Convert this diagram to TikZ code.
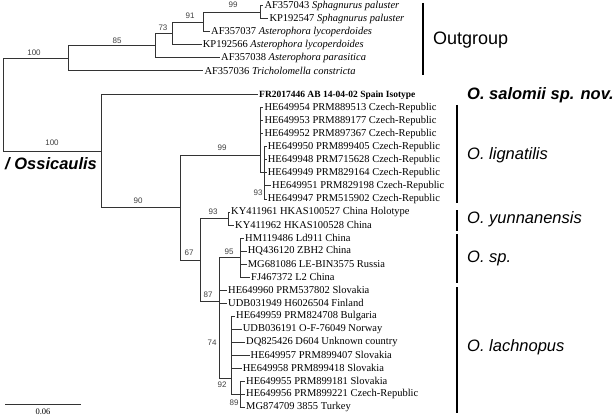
\documentclass[tikz,border=0pt]{standalone}
\usepackage{fontspec}
\setmainfont{Liberation Serif}
\newfontfamily\arialfont{Liberation Sans}
\usetikzlibrary{positioning}

\begin{document}
\begin{tikzpicture}[
  x=1pt, y=-1pt,
  br/.style={draw=black!80, line width=1pt},
  tip/.style={anchor=west, inner xsep=1pt, inner ysep=0pt,
              font=\fontsize{10.5}{12}\selectfont},
  boot/.style={inner sep=0pt, text=black!75,
               font=\arialfont\fontsize{8}{9}\selectfont},
  clade/.style={line width=2.6pt},
  grp/.style={anchor=west, inner sep=0pt,
              font=\arialfont\itshape\fontsize{16.5}{18}\selectfont}
]
\useasboundingbox (0,0) rectangle (616,417);

% inner nodes of the tree
\coordinate (root)  at (3,104.9);
\coordinate (og)    at (68.3,58.4);
\coordinate (ast)   at (155.7,45.8);
\coordinate (ast2)  at (172.3,33.6);
\coordinate (sphA)  at (203.3,22.25);
\coordinate (sph)   at (260,12.5);
\coordinate (oss)   at (101.7,151.4);
\coordinate (core)  at (180.7,207.85);
\coordinate (lig)   at (260.7,155.7);
\coordinate (lig2)  at (264.3,173);
\coordinate (rest)  at (200,260);
\coordinate (yun)   at (228,218.5);
\coordinate (lachW) at (219,301.5);
\coordinate (osp)   at (240,257.5);
\coordinate (lach)  at (231.7,378);
\coordinate (lach2) at (240.7,394);

\foreach \p/\c in {root/og, og/ast, ast/ast2, ast2/sphA, sphA/sph,
                   root/oss, oss/core, core/lig, lig/lig2, core/rest,
                   rest/yun, rest/lachW, lachW/osp, lachW/lach, lach/lach2}{
  \draw[br] (\p) |- (\c);
}

% leaves
\foreach \n/\p/\x/\y/\t in {
  t1/sph/263.3/6/{AF357043 \textit{Sphagnurus paluster}},
  t2/sph/268.3/19/{KP192547 \textit{Sphagnurus paluster}},
  t3/sphA/210/32/{AF357037 \textit{Asterophora lycoperdoides}},
  t4/ast2/201.7/45/{KP192566 \textit{Asterophora lycoperdoides}},
  t5/ast/220/58/{AF357038 \textit{Asterophora parasitica}},
  t6/og/203.3/71/{AF357036 \textit{Tricholomella constricta}},
  i0/lig/263.3/108/{HE649954 PRM889513 Czech-Republic},
  i1/lig/263.3/121/{HE649953 PRM889177 Czech-Republic},
  i2/lig/263.3/134/{HE649952 PRM897367 Czech-Republic},
  i3/lig2/266.7/147/{HE649950 PRM899405 Czech-Republic},
  i4/lig2/266.7/160/{HE649948 PRM715628 Czech-Republic},
  i5/lig2/266.7/173/{HE649949 PRM829164 Czech-Republic},
  i6/lig2/271/186/{HE649951 PRM829198 Czech-Republic},
  i7/lig2/266.7/199/{HE649947 PRM515902 Czech-Republic},
  i8/yun/230/212/{KY411961 HKAS100527 China Holotype},
  i9/yun/234/225/{KY411962 HKAS100528 China},
  i10/osp/244/238/{HM119486 Ld911 China},
  i11/osp/246.7/251/{HQ436120 ZBH2 China},
  i12/osp/246.7/264/{MG681086 LE-BIN3575 Russia},
  i13/osp/250/277/{FJ467372 L2 China},
  i14/lachW/227/290/{HE649960 PRM537802 Slovakia},
  i15/lachW/227/303/{UDB031949 H6026504 Finland},
  i16/lach/235/316/{HE649959 PRM824708 Bulgaria},
  i17/lach/241.7/329/{UDB036191 O-F-76049 Norway},
  i18/lach/245/342/{DQ825426 D604 Unknown country},
  i19/lach/249.5/355/{HE649957 PRM899407 Slovakia},
  i20/lach/241.7/368/{HE649958 PRM899418 Slovakia},
  i21/lach2/245/381/{HE649955 PRM899181 Slovakia},
  i22/lach2/245/394/{HE649956 PRM899221 Czech-Republic},
  i23/lach2/245/407/{MG874709 3855 Turkey}}{
  \node[tip] (\n) at (\x,\y) {\t};
  \draw[br] (\p) |- (\n.west);
}
\node[tip, font=\bfseries\fontsize{9.5}{11}\selectfont] (fr) at (258,95)
  {FR2017446 AB 14-04-02 Spain Isotype};
\draw[br] (oss) |- (fr.west);

% bootstrap values
\foreach \x/\y/\v in {34/53/100, 117/41/85, 163/28/73, 190/16/91, 233/5/99,
                      52/143/100, 138/201/90, 222/148/99, 258/193/93,
                      213/212/93, 189/253/67, 229/252/95, 208/295/87,
                      212/343/74, 222/385/92, 234/403/89}{
  \node[boot] at (\x,\y) {\v};
}

% clade bars
\foreach \x/\a/\b in {423/3/75, 457/105/203, 457/210/231, 457/234/283, 457/287/413}{
  \draw[clade] (\x,\a) -- (\x,\b);
}
\node[grp, font=\arialfont\fontsize{18}{20}\selectfont] (outg) at (433,40) {Outgroup};
\node[grp, font=\arialfont\bfseries\itshape\fontsize{16.5}{18}\selectfont] (salo) at (467,95) {O. salomii sp. nov.};
\node[grp] (ligl) at (467,155) {O. lignatilis};
\node[grp] (yunl) at (467,219) {O. yunnanensis};
\node[grp] (spl)  at (467,258) {O. sp.};
\node[grp] (lacl) at (467,347) {O. lachnopus};
\node[grp, font=\arialfont\bfseries\itshape\fontsize{16.5}{18}\selectfont] (genus) at (5,164) {/ Ossicaulis};

% scale
\coordinate (s0) at (5,404);
\coordinate (s1) at (81,404);
\draw[draw=black!80, line width=1pt] (s0) -- (s1);
\node[inner sep=0pt, font=\fontsize{8.5}{10}\selectfont] (scl) at (43,412) {0.06};
\end{tikzpicture}
\end{document}
